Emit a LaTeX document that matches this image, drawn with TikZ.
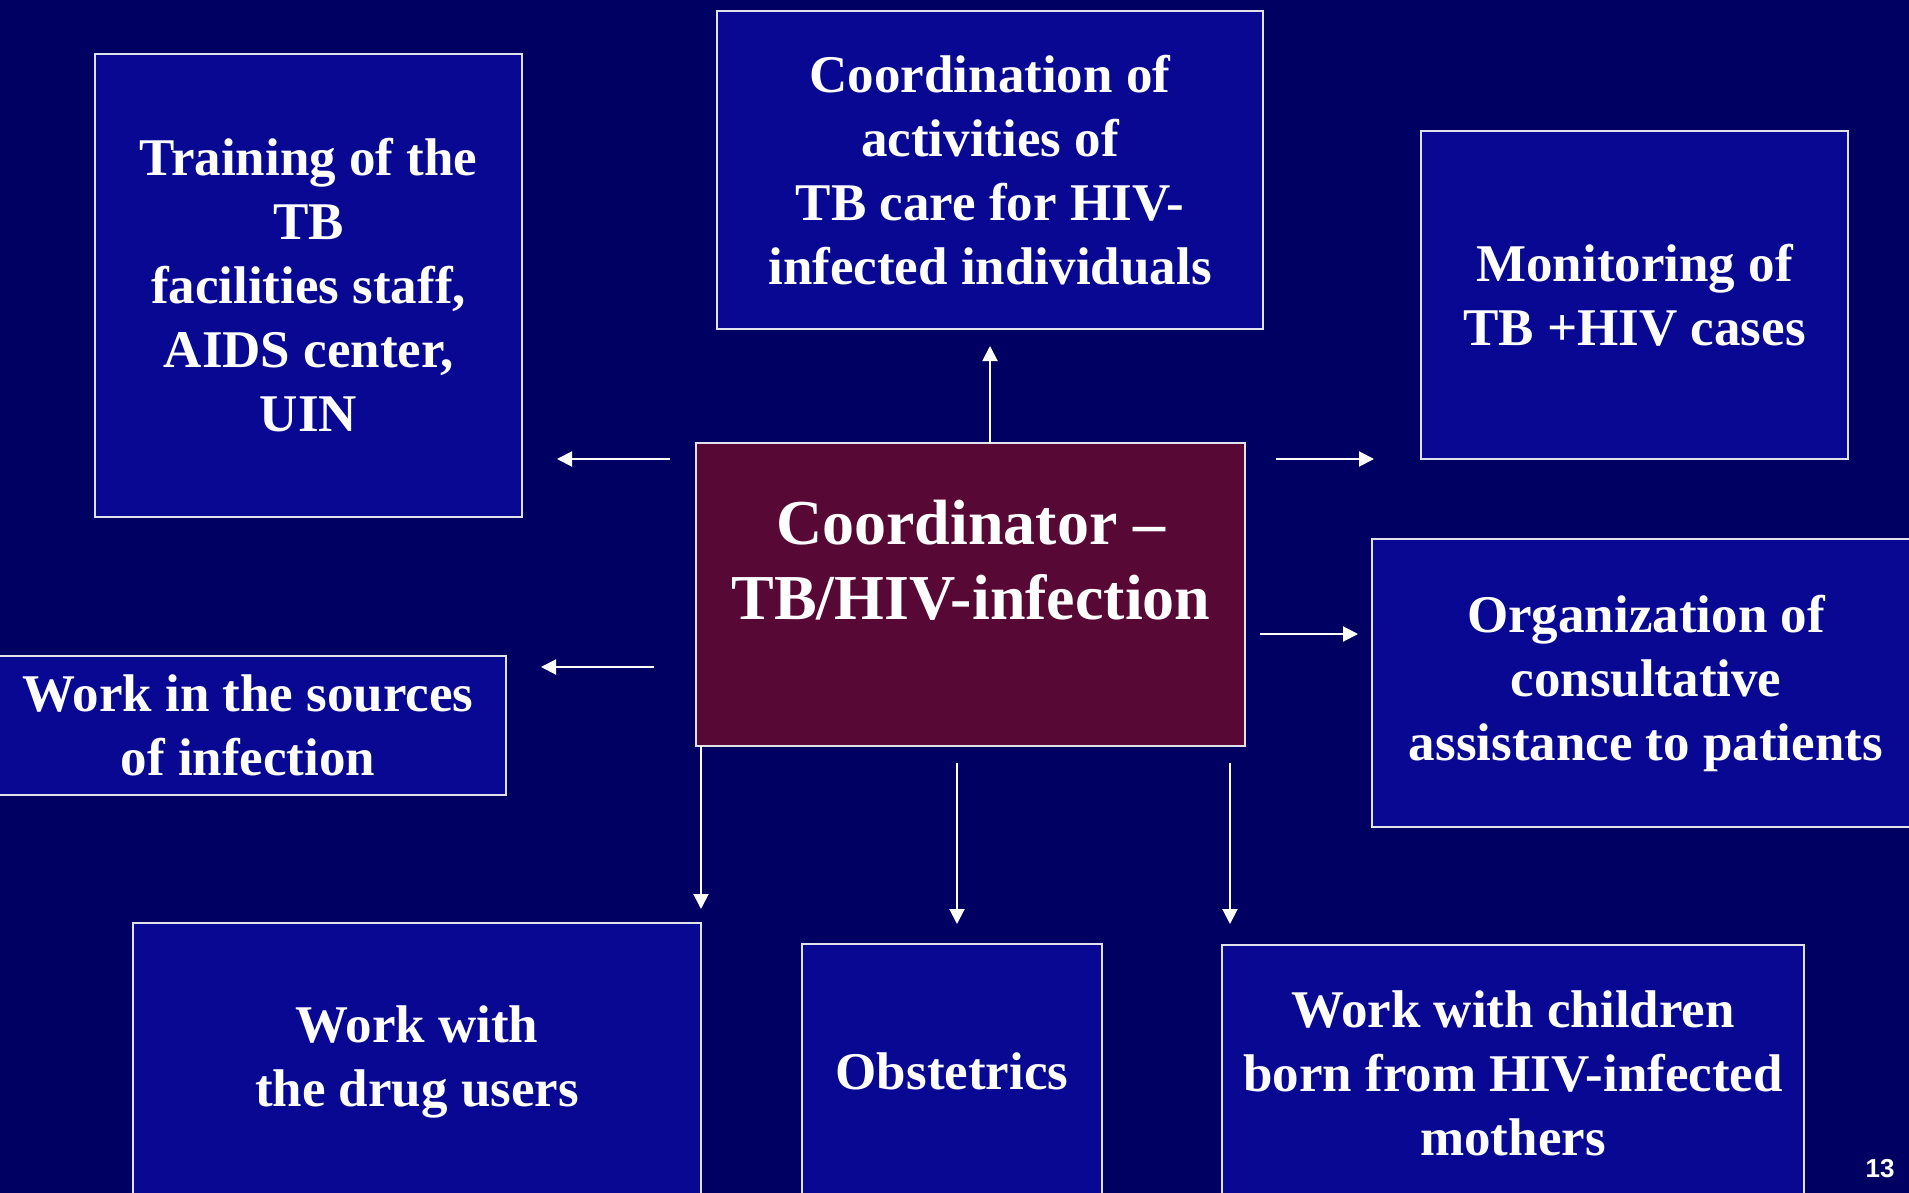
\documentclass[tikz,border=0pt]{standalone}
\usepackage{fontspec}
\setmainfont{Liberation Serif}[Ligatures=CommonOff]
\newfontfamily\pagenumfont{Liberation Sans}
\usetikzlibrary{arrows.meta}
\definecolor{bgnavy}{RGB}{0,0,98}
\definecolor{boxblue}{RGB}{8,8,146}
\definecolor{boxred}{RGB}{88,8,52}
\definecolor{edgegrey}{RGB}{225,225,235}
\tikzset{
  x=1pt, y=-1pt,
  panel/.style={draw=edgegrey, line width=2pt, fill=boxblue, inner sep=0pt, outer sep=0pt},
  hubpanel/.style={panel, fill=boxred},
  paneltext/.style={text=white, align=center, font=\bfseries\fontsize{53}{64}\selectfont},
  hubtext/.style={text=white, align=center, font=\bfseries\fontsize{64}{75}\selectfont},
  flow/.style={draw=white, line width=2pt, -{Triangle[length=15pt,width=15pt]}}
}
\begin{document}
\begin{tikzpicture}
\useasboundingbox (0,0) rectangle (1909,1193);
\clip (0,0) rectangle (1909,1193);
\fill[bgnavy] (0,0) rectangle (1909,1193);

% boxes
\node[panel, minimum width=427pt, minimum height=463pt, paneltext] (train) at (308.5,285.5)
  {Training of the\\TB\\facilities staff,\\AIDS center,\\UIN};
\node[panel, minimum width=546pt, minimum height=318pt, paneltext] (coord) at (990,170)
  {Coordination of\\activities of\\TB care for HIV-\\infected individuals};
\node[panel, minimum width=427pt, minimum height=328pt, paneltext] (monit) at (1634.5,295)
  {Monitoring of\\TB +HIV cases};
\node[hubpanel, minimum width=549pt, minimum height=303pt] (hub) at (970.5,594.5) {};
\node[hubtext] (hubtxt) at (971,560) {Coordinator --\\TB/HIV-infection};
\node[panel, minimum width=516pt, minimum height=139pt, paneltext] (sources) at (248,725.5)
  {Work in the sources\\of infection};
\node[panel, minimum width=548pt, minimum height=288pt, paneltext] (organ) at (1646,683)
  {Organization of\\consultative\\assistance to patients};
\node[panel, minimum width=568pt, minimum height=278pt, paneltext] (drug) at (417,1062)
  {Work with\\the drug users};
\node[panel, minimum width=300pt, minimum height=254pt, paneltext] (obst) at (952,1071)
  {Obstetrics};
\node[panel, minimum width=582pt, minimum height=256pt, paneltext] (child) at (1513,1073)
  {Work with children\\born from HIV-infected\\mothers};

% arrow end points
\coordinate (aLUs) at (670,459);  \coordinate (aLUe) at (557,459);
\coordinate (aLLs) at (654,667);  \coordinate (aLLe) at (541,667);
\coordinate (aRUs) at (1276,459); \coordinate (aRUe) at (1374,459);
\coordinate (aRLs) at (1260,634); \coordinate (aRLe) at (1358,634);
\coordinate (aUPs) at (990,443);  \coordinate (aUPe) at (990,346);
\coordinate (aD1s) at (701,746);  \coordinate (aD1e) at (701,909);
\coordinate (aD2s) at (957,763);  \coordinate (aD2e) at (957,924);
\coordinate (aD3s) at (1230,763); \coordinate (aD3e) at (1230,924);

\draw[flow] (aLUs) -- (aLUe);
\draw[flow] (aLLs) -- (aLLe);
\draw[flow] (aRUs) -- (aRUe);
\draw[flow] (aRLs) -- (aRLe);
\draw[flow] (aUPs) -- (aUPe);
\draw[flow] (aD1s) -- (aD1e);
\draw[flow] (aD2s) -- (aD2e);
\draw[flow] (aD3s) -- (aD3e);

\node[text=white, font=\pagenumfont\bfseries\fontsize{26}{30}\selectfont] (pnum) at (1880,1169) {13};
\end{tikzpicture}
\end{document}
